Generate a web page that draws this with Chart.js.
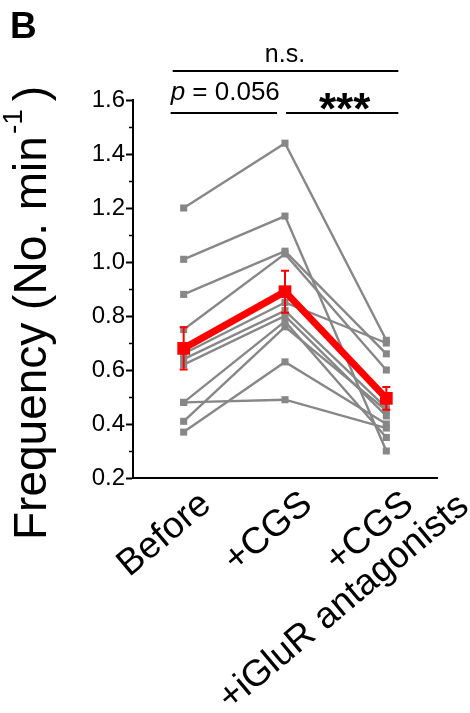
<!DOCTYPE html>
<html>
<head>
<meta charset="utf-8">
<script src="https://cdn.jsdelivr.net/npm/chart.js@4.4.1/dist/chart.umd.min.js"></script>
<style>
  html, body { margin: 0; padding: 0; background: #ffffff; }
  canvas { display: block; }
</style>
</head>
<body>
<canvas id="chart" width="470" height="713"></canvas>
<script>
// Conditions along the x axis (first lines padded so the second line sits further along)
const categories = ['Before    ', '+CGS    ', ['+CGS    ', '+iGluR antagonists']];

// Per-cell event frequency (events per minute), one entry per recorded cell
const beforeValues = [1.20, 1.01, 0.88, 0.75, 0.66, 0.64, 0.62, 0.48, 0.48, 0.41, 0.37];
const cgsValues    = [1.44, 1.17, 1.04, 1.03, 0.85, 0.82, 0.80, 0.78, 0.49, 0.76, 0.63];
const antagValues  = [0.71, 0.30, 0.66, 0.60, 0.70, 0.46, 0.43, 0.35, 0.385, 0.45, 0.40];

// Group mean and SEM per condition
const meanValues = [0.68, 0.89, 0.495];
const semValues  = [0.078, 0.078, 0.042];

// Y axis ticks
const yTickValues  = [0.2, 0.4, 0.6, 0.8, 1.0, 1.2, 1.4, 1.6];
const yTickLabels  = ['0.2', '0.4', '0.6', '0.8', '1.0', '1.2', '1.4', '1.6'];
const yMinorValues = [0.3, 0.5, 0.7, 0.9, 1.1, 1.3, 1.5];

// Significance annotations
const sigLabels = { overall: 'n.s.', first: '= 0.056', second: '***' };

const FONT = '"Liberation Sans", Arial, Helvetica, sans-serif';
const GRAY = '#878787';
const RED = '#ff0000';

const cellDatasets = beforeValues.map((b, i) => ({
  data: [b, cgsValues[i], antagValues[i]],
  borderColor: GRAY,
  backgroundColor: GRAY,
  borderWidth: 2.4,
  pointStyle: 'rect',
  pointRadius: 5,
  pointBorderWidth: 0,
  pointBackgroundColor: GRAY,
  tension: 0,
  order: 2
}));

const meanDataset = {
  data: meanValues,
  borderColor: RED,
  backgroundColor: RED,
  borderWidth: 7,
  pointStyle: 'rect',
  pointRadius: 9,
  pointBorderWidth: 0,
  pointBackgroundColor: RED,
  tension: 0,
  order: 1
};

// Error bars, minor y ticks, y title, significance bars, panel letter
const decorations = {
  id: 'decorations',
  afterDatasetsDraw(chart) {
    const { ctx, scales: { x, y } } = chart;
    ctx.save();
    ctx.strokeStyle = RED;
    ctx.lineWidth = 2;
    meanValues.forEach((m, i) => {
      const px = x.getPixelForValue(i);
      const top = y.getPixelForValue(m + semValues[i]);
      const bot = y.getPixelForValue(m - semValues[i]);
      ctx.beginPath();
      ctx.moveTo(px, top); ctx.lineTo(px, bot);
      ctx.moveTo(px - 4, top); ctx.lineTo(px + 4, top);
      ctx.moveTo(px - 4, bot); ctx.lineTo(px + 4, bot);
      ctx.stroke();
    });
    ctx.restore();
  },
  afterDraw(chart) {
    const { ctx, chartArea, scales: { x, y } } = chart;
    ctx.save();
    // minor ticks on the y axis
    ctx.strokeStyle = '#000';
    ctx.lineWidth = 1.5;
    yMinorValues.forEach(v => {
      const py = Math.round(y.getPixelForValue(v)) + 0.5;
      ctx.beginPath();
      ctx.moveTo(chartArea.left - 4, py);
      ctx.lineTo(chartArea.left, py);
      ctx.stroke();
    });

    // y axis title with superscript
    ctx.fillStyle = '#000';
    ctx.save();
    ctx.translate(46, 540);
    ctx.rotate(-Math.PI / 2);
    ctx.font = '46px ' + FONT;
    ctx.textBaseline = 'alphabetic';
    ctx.textAlign = 'left';
    const main = 'Frequency (No. min';
    ctx.fillText(main, 0, 0);
    let w = ctx.measureText(main).width;
    ctx.font = '28px ' + FONT;
    ctx.fillText('-1', w + 2, -24);
    w += ctx.measureText('-1').width + 10;
    ctx.font = '46px ' + FONT;
    ctx.fillText(')', w, 0);
    ctx.restore();

    // panel letter
    ctx.font = 'bold 37px ' + FONT;
    ctx.textAlign = 'left';
    ctx.textBaseline = 'alphabetic';
    ctx.fillText('B', 10, 38);

    // significance bars
    const x0 = x.getPixelForValue(0);
    const x1 = x.getPixelForValue(1);
    const x2 = x.getPixelForValue(2);
    ctx.lineWidth = 2;
    ctx.strokeStyle = '#000';
    ctx.beginPath();
    ctx.moveTo(x0 - 11, 71); ctx.lineTo(x2 + 12, 71);
    ctx.moveTo(x0 - 13, 113); ctx.lineTo(x1 - 8, 113);
    ctx.moveTo(x1 + 1, 113); ctx.lineTo(x2 + 12, 113);
    ctx.stroke();

    ctx.font = '25px ' + FONT;
    ctx.textAlign = 'center';
    ctx.fillText(sigLabels.overall, (x0 + x2) / 2, 62);

    ctx.textAlign = 'left';
    ctx.font = 'italic 26px ' + FONT;
    ctx.fillText('p', x0 - 13, 100);
    const pw = ctx.measureText('p ').width;
    ctx.font = '26px ' + FONT;
    ctx.fillText(sigLabels.first, x0 - 13 + pw, 100);

    ctx.font = 'bold 44px ' + FONT;
    ctx.textAlign = 'center';
    ctx.fillText(sigLabels.second, (x1 + x2) / 2 + 9, 124);
    ctx.restore();
  }
};

new Chart(document.getElementById('chart'), {
  type: 'line',
  data: {
    labels: categories,
    datasets: [meanDataset, ...cellDatasets]
  },
  options: {
    responsive: false,
    devicePixelRatio: 1,
    animation: false,
    layout: { padding: { top: 100, right: 33, left: 0, bottom: 0 } },
    plugins: { legend: { display: false }, tooltip: { enabled: false } },
    scales: {
      x: {
        type: 'category',
        offset: true,
        grid: { display: false },
        border: { display: true, color: '#000', width: 2 },
        ticks: {
          color: '#000',
          font: { family: FONT, size: 37, lineHeight: 1.0 },
          minRotation: 40,
          maxRotation: 40,
          autoSkip: false,
          padding: -27,
          labelOffset: 54
        },
        afterFit(scale) { scale.height = 235; }
      },
      y: {
        min: 0.2,
        max: 1.6,
        grid: {
          drawOnChartArea: false,
          drawTicks: true,
          tickLength: 7,
          tickWidth: 2,
          tickColor: '#000'
        },
        border: { display: true, color: '#000', width: 2 },
        afterBuildTicks(scale) {
          scale.ticks = yTickValues.map(v => ({ value: v }));
        },
        ticks: {
          color: '#000',
          padding: 1,
          font: { family: FONT, size: 24 },
          callback(value) {
            const i = yTickValues.findIndex(t => Math.abs(t - value) < 1e-6);
            return i >= 0 ? yTickLabels[i] : '';
          }
        },
        afterFit(scale) { scale.width = 133; }
      }
    }
  },
  plugins: [decorations]
});
</script>
</body>
</html>
